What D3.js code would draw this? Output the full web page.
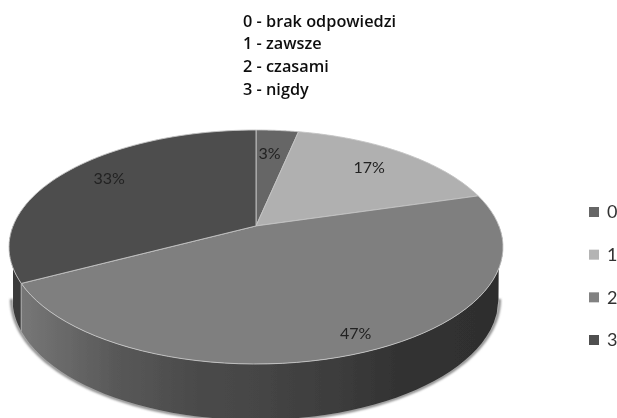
<!DOCTYPE html>
<html>
<head>
<meta charset="utf-8">
<script src="https://cdn.jsdelivr.net/npm/d3@7"></script>
<style>
  html, body { margin: 0; padding: 0; background: #fff; }
  text { font-family: Lato, "Open Sans", sans-serif; }
</style>
</head>
<body>
<div id="chart"></div>
<script>
const categories = ["0", "1", "2", "3"];
const values = [3.3, 17.2, 46.8, 32.7];
const noteLines = ["0 - brak odpowiedzi", "1 - zawsze", "2 - czasami", "3 - nigdy"];
const sliceColors = ["#666666", "#b0b0b0", "#7f7f7f", "#4d4d4d"];
const legendColors = ["#666666", "#b4b4b4", "#828282", "#505050"];
const labelRadius = [0.73, 0.77, 0.88, 0.8];
const labelTurn = [-1, -1, -1.5, 4];
const wallStops = [[0, "#777777"], [0.2, "#585858"], [0.37, "#4a4a4a"], [0.5, "#454545"], [0.66, "#3c3c3c"], [0.79, "#323232"], [1, "#2e2e2e"]];

const width = 617, height = 418;

const svg = d3.select("#chart").append("svg")
  .attr("width", width)
  .attr("height", height)
  .style("display", "block");

const defs = svg.append("defs");
defs.append("filter").attr("id", "soft")
  .append("feGaussianBlur").attr("stdDeviation", 0.45);
defs.append("filter").attr("id", "shadow").attr("x", "-5%").attr("width", "110%")
  .append("feGaussianBlur").attr("stdDeviation", 1);

const wallGrad = defs.append("linearGradient").attr("id", "wall")
  .attr("gradientUnits", "userSpaceOnUse")
  .attr("x1", 20).attr("x2", 503).attr("y1", 0).attr("y2", 0);
wallGrad.selectAll("stop")
  .data(wallStops)
  .join("stop")
  .attr("offset", d => d[0])
  .attr("stop-color", d => d[1]);

// top face: circle seen in perspective, so the apex sits above the ellipse centre
const face = { cx: 256, cy: 247, rx: 247, ry: 117, tilt: -0.18 };
// lower rim of the wall
const low = { cx: 255.5, cy: 299, rx: 243, ry: 121 };

const pie = d3.pie().sort(null).value(d => d);
const arcs = pie(values);

function project(angle, r = 1) {
  const u = r * Math.sin(angle), v = -r * Math.cos(angle);
  const w = 1 + face.tilt * v;
  return [
    face.cx + face.rx * Math.sqrt(1 - face.tilt * face.tilt) * u / w,
    face.cy + face.ry * (v + face.tilt) / w
  ];
}

// lower rim point straight under a top rim point, held inside the rim at both ends
function under(p) {
  const x = Math.max(low.cx - low.rx, Math.min(low.cx + low.rx, p[0]));
  const dx = (x - low.cx) / low.rx;
  return [x, low.cy + low.ry * Math.sqrt(1 - dx * dx)];
}

const line = d3.line();
const steps = a => d3.range(0, 61).map(i => a.startAngle + (a.endAngle - a.startAngle) * i / 60);

function wallPath(a) {
  const upper = steps(a).map(t => project(t));
  const lower = upper.map(under);
  return line(upper.concat(lower.reverse())) + "Z";
}

function slicePath(a) {
  return line([project(0, 0)].concat(steps(a).map(t => project(t)))) + "Z";
}

const chart = svg.append("g").attr("filter", "url(#soft)");

// grey halo along the lower rim
const rimPoints = d3.range(0, 121).map(i => {
  const phi = Math.PI * i / 120;
  return [low.cx + (low.rx + 1) * Math.cos(phi), low.cy + (low.ry + 0.5) * Math.sin(phi)];
});
chart.append("path")
  .attr("d", line(rimPoints))
  .attr("fill", "none")
  .attr("stroke", "#8a8a8a")
  .attr("stroke-width", 3)
  .attr("filter", "url(#shadow)");

// back part of slice 3 shows on the far left
chart.append("path")
  .attr("d", wallPath({ startAngle: arcs[3].startAngle, endAngle: Math.PI * 1.5 }))
  .attr("fill", "#3a3a3a");

chart.append("path")
  .attr("d", wallPath({ startAngle: Math.PI / 2, endAngle: arcs[2].endAngle }))
  .attr("fill", "url(#wall)");

// light edge where the slice 2 wall is cut
const cut = project(arcs[2].endAngle);
chart.append("path")
  .attr("d", line([cut, under(cut)]))
  .attr("stroke", "#a0a0a0")
  .attr("stroke-width", 1.2)
  .attr("fill", "none");

// top face
chart.selectAll("path.slice")
  .data(arcs)
  .join("path")
  .attr("class", "slice")
  .attr("d", slicePath)
  .attr("fill", (d, i) => sliceColors[i])
  .attr("stroke", "#c4c4c4")
  .attr("stroke-width", 0.9)
  .attr("stroke-linejoin", "round");

// percent labels
chart.selectAll("text.pct")
  .data(arcs)
  .join("text")
  .attr("class", "pct")
  .attr("transform", (d, i) => {
    const mid = (d.startAngle + d.endAngle) / 2 + labelTurn[i] * Math.PI / 180;
    const p = project(mid, labelRadius[i]);
    return `translate(${p[0]},${p[1]})`;
  })
  .attr("text-anchor", "middle")
  .attr("dy", "0.36em")
  .attr("font-size", 16)
  .attr("fill", "#222")
  .text(d => Math.round(d.data) + "%");

// note above the pie
const note = svg.append("g").attr("filter", "url(#soft)");
note.selectAll("text")
  .data(noteLines)
  .join("text")
  .attr("x", 243)
  .attr("y", (d, i) => 26.5 + i * 22.8)
  .style("font-family", "'Open Sans', sans-serif")
  .attr("font-size", 16.3)
  .attr("font-weight", 600)
  .attr("fill", "#111")
  .text(d => d);

// legend
const legendY = d3.scalePoint().domain(categories).range([212, 340]);
const legend = svg.append("g").attr("filter", "url(#soft)")
  .selectAll("g")
  .data(categories)
  .join("g")
  .attr("transform", d => `translate(589,${legendY(d)})`);

legend.append("rect")
  .attr("y", -5)
  .attr("width", 10)
  .attr("height", 10)
  .attr("fill", (d, i) => legendColors[i]);

legend.append("text")
  .attr("x", 18)
  .attr("dy", "0.36em")
  .attr("font-size", 18)
  .attr("fill", "#333")
  .text(d => d);
</script>
</body>
</html>
